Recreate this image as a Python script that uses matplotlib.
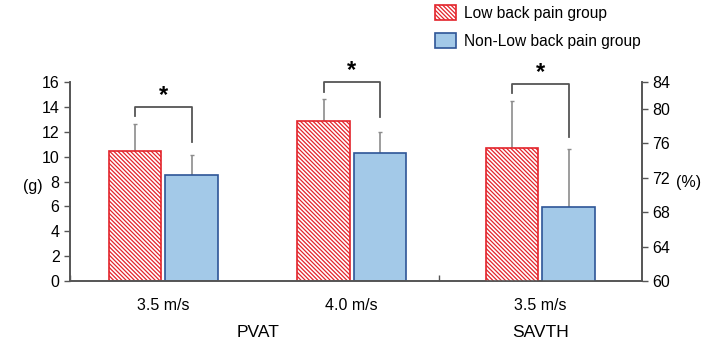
import numpy as np
import matplotlib
matplotlib.use('Agg')
import matplotlib.pyplot as plt
from matplotlib.patches import Patch

plt.rcParams['font.family'] = ['Liberation Sans', 'DejaVu Sans']
plt.rcParams['hatch.linewidth'] = 0.9

# data
speeds = ['3.5 m/s', '4.0 m/s', '3.5 m/s']
lbp_mean = [10.5, 12.9, 75.4]     # Low back pain group
lbp_sd = [2.15, 1.7, 5.5]
non_mean = [8.5, 10.3, 68.6]      # Non-Low back pain group
non_sd = [1.6, 1.7, 6.7]
# significance brackets: (top, left leg end, right leg end)
brackets = [(14.0, 13.3, 11.2), (16.0, 15.2, 13.2), (82.9, 81.8, 76.7)]

red = '#e3242b'
blue_face = '#a3c9e8'
blue_edge = '#2e5597'
grey = '#8c8c8c'
dark = '#555555'
hatch = '\\' * 8

x = np.arange(3)
w = 0.28
off = 0.15

fig = plt.figure(figsize=(7.19, 3.42), dpi=100)
ax = fig.add_axes([0.0974, 0.178, 0.7956, 0.582])
ax2 = ax.twinx()

def draw(a, i):
    a.bar(x[i] - off, lbp_mean[i], w, facecolor='white', edgecolor=red,
          hatch=hatch, linewidth=1.2, zorder=2)
    a.bar(x[i] + off, non_mean[i], w, facecolor=blue_face, edgecolor=blue_edge,
          linewidth=1.2, zorder=2)
    a.errorbar([x[i] - off], [lbp_mean[i]], yerr=[[0], [lbp_sd[i]]], fmt='none',
               ecolor=grey, elinewidth=1.2, capsize=1.5, zorder=1)
    a.errorbar([x[i] + off], [non_mean[i]], yerr=[[0], [non_sd[i]]], fmt='none',
               ecolor=grey, elinewidth=1.2, capsize=1.5, zorder=1)
    top, l_end, r_end = brackets[i]
    a.plot([x[i] - off, x[i] - off, x[i] + off, x[i] + off],
           [l_end, top, top, r_end], color=dark, lw=1.3, clip_on=False)
    a.text(x[i], top, '*', ha='center', va='bottom', fontsize=17,
           fontweight='bold', clip_on=False)

draw(ax, 0)
draw(ax, 1)
draw(ax2, 2)

ax.set_xlim(-0.495, 2.54)
ax.set_ylim(0, 16)
ax.set_yticks(range(0, 17, 2))
ax2.set_ylim(60, 83.07)
ax2.set_yticks([60, 64, 68, 72, 76, 80, 83.07])
ax2.set_yticklabels(['60', '64', '68', '72', '76', '80', '84'])

for a in (ax, ax2):
    a.spines['top'].set_visible(False)
    for s in a.spines.values():
        s.set_color(dark)
        s.set_linewidth(1.2)
    a.tick_params(axis='y', labelsize=11.5, length=4, color=dark, width=1.0)
ax.set_xticks([-0.495, 1.46])
ax.set_xticklabels([])
ax.tick_params(axis='x', direction='in', length=4, color=dark, width=1.0)

for i in range(3):
    ax.text(x[i], -0.12, speeds[i], transform=ax.get_xaxis_transform(),
            ha='center', va='center', fontsize=11.5)
ax.text(0.5, -0.26, 'PVAT', transform=ax.get_xaxis_transform(),
        ha='center', va='center', fontsize=12.5)
ax.text(2, -0.26, 'SAVTH', transform=ax.get_xaxis_transform(),
        ha='center', va='center', fontsize=12.5)

fig.text(0.045, 0.455, '(g)', ha='center', va='center', fontsize=11.5)
fig.text(0.957, 0.466, '(%)', ha='center', va='center', fontsize=11.5)

handles = [Patch(facecolor='white', edgecolor=red, hatch=hatch, linewidth=1.2),
           Patch(facecolor=blue_face, edgecolor=blue_edge, linewidth=1.2)]
fig.legend(handles, ['Low back pain group', 'Non-Low back pain group'],
           loc='upper left', bbox_to_anchor=(0.585, 1.025), frameon=False,
           fontsize=11.2, handlelength=1.4, handleheight=1.1, handletextpad=0.5,
           labelspacing=0.75)

fig.savefig('out.png', dpi=100)
